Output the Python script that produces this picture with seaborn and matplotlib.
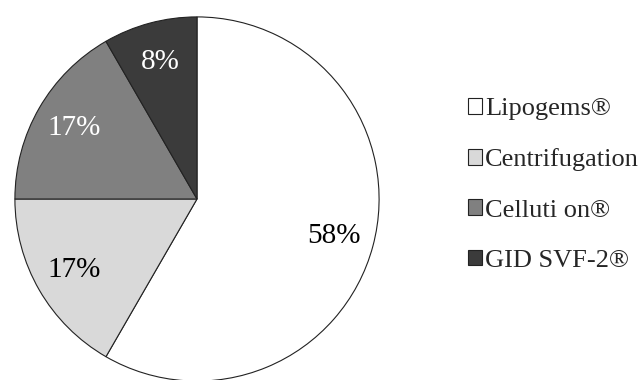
import matplotlib
matplotlib.use("Agg")
import matplotlib.pyplot as plt
import seaborn as sns

methods = ["Lipogems\u00ae", "Centrifugation", "Celluti on\u00ae", "GID SVF-2\u00ae"]
counts = [7, 2, 2, 1]
fills = ["#ffffff", "#d9d9d9", "#808080", "#3b3b3b"]
label_colors = ["black", "black", "white", "white"]

sns.set_style("white")
plt.rcParams["font.family"] = ["Liberation Serif", "DejaVu Serif"]

fig = plt.figure(figsize=(6.44, 3.80), dpi=100)
ax = fig.add_axes([14 / 644, -2 / 380, 366 / 644, 366 / 380])

wedges, texts, autotexts = ax.pie(
    counts, colors=fills, startangle=90, counterclock=False,
    autopct="%1.0f%%", pctdistance=0.78,
    wedgeprops=dict(edgecolor="#222222", linewidth=0.8),
    textprops=dict(fontsize=21),
)
for t, c in zip(autotexts, label_colors):
    t.set_color(c)
ax.set_xlim(-1.005, 1.005)
ax.set_ylim(-1.005, 1.005)
ax.set_aspect("equal")

leg = fig.legend(
    wedges, methods, loc="center left",
    bbox_to_anchor=(457 / 644, 1 - 185 / 380),
    frameon=False, fontsize=19, handlelength=0.55, handleheight=0.55,
    handletextpad=0.12, labelspacing=1.06, borderaxespad=0,
)

fig.savefig("out.png", dpi=100)
